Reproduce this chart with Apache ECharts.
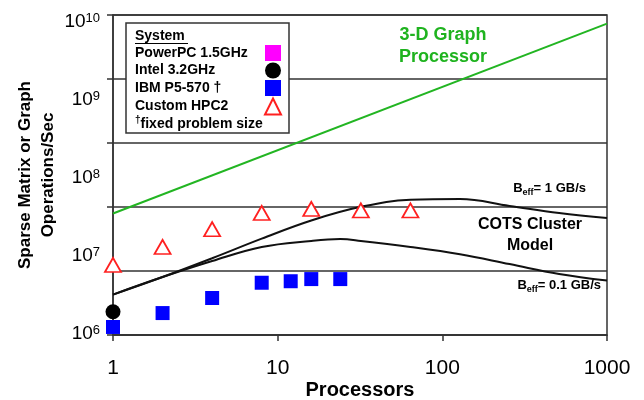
<!DOCTYPE html>
<html><head><meta charset="utf-8">
<script src="https://cdn.jsdelivr.net/npm/echarts@6/dist/echarts.min.js"></script>
<style>html,body{margin:0;padding:0;background:#fff}#c{width:644px;height:400px}</style>
</head><body><div id="c"></div>
<script>
// ---- data ----
const xTicks = [1, 10, 100, 1000];
const yTickExps = [6, 7, 8, 9, 10];
const graphProcX = [1, 1000];
const graphProcY = [3.3e7, 7.8e9];
const hpc2X = [1, 2, 4, 8, 16, 32, 64];
const hpc2Y = [7.5e6, 1.26e7, 2.1e7, 3.35e7, 3.76e7, 3.6e7, 3.6e7];
const ibmX = [1, 2, 4, 8, 12, 16, 24];
const ibmY = [1.26e6, 1.88e6, 2.9e6, 4.5e6, 4.7e6, 5.0e6, 5.0e6];
const intelX = [1];
const intelY = [1.95e6];
const powerpcX = [];
const powerpcY = [];
const cots1X = [1, 2, 4, 8, 16, 32, 64, 128, 256, 512, 1000];
const cots1Y = [3.2e6, 5.3e6, 9.1e6, 1.6e7, 2.7e7, 4.0e7, 4.9e7, 5.0e7, 4.1e7, 3.35e7, 2.9e7];
const cots01X = [1, 2, 4, 8, 16, 24, 32, 64, 128, 256, 512, 1000];
const cots01Y = [3.2e6, 5.3e6, 8.4e6, 1.26e7, 1.5e7, 1.58e7, 1.5e7, 1.26e7, 1.02e7, 7.7e6, 5.8e6, 4.8e6];
const legendNames = ['PowerPC 1.5GHz', 'Intel 3.2GHz', 'IBM P5-570 \u2020', 'Custom HPC2'];

const zip = (xs, ys) => xs.map((x, i) => [x, ys[i]]);
const FF = '"Liberation Sans", Arial, sans-serif';

// per-label vertical nudge of y tick labels (px, + = down)
const yLabelNudge = { 6: 0, 7: 1, 8: 2, 9: 3, 10: 4 };
const yRich = {};
Object.keys(yLabelNudge).forEach(e => {
  const d = yLabelNudge[e];
  const pad = d >= 0 ? [2 * d, 0, 0, 0] : [0, 0, -2 * d, 0];
  yRich['b' + e] = { fontFamily: FF, fontSize: 19, color: '#000', lineHeight: 22, verticalAlign: 'top', padding: pad };
  yRich['s' + e] = { fontFamily: FF, fontSize: 13, color: '#000', lineHeight: 15, verticalAlign: 'top', padding: pad };
});

const chart = echarts.init(document.getElementById('c'));
chart.setOption({
  animation: false,
  backgroundColor: '#fff',
  textStyle: { fontFamily: FF },
  grid: { left: 113, right: 37, top: 15, bottom: 65, containLabel: false, outerBoundsMode: 'none',
    show: true, borderColor: '#333', borderWidth: 1.5, backgroundColor: 'transparent' },
  xAxis: {
    type: 'log', logBase: 10, min: 1, max: 1000,
    name: 'Processors', nameLocation: 'middle', nameGap: 45, nameMoveOverlap: false,
    nameTextStyle: { fontFamily: FF, fontSize: 20, fontWeight: 'bold', color: '#000' },
    axisLine: { lineStyle: { color: '#333', width: 1.5 } },
    axisTick: { show: true, length: 6, lineStyle: { color: '#333', width: 1.5 } },
    minorTick: { show: false },
    splitLine: { show: false },
    axisLabel: { fontFamily: FF, fontSize: 21, color: '#000', margin: 23,
      formatter: v => { const r = Math.round(v); return xTicks.indexOf(r) >= 0 ? String(r) : ''; } }
  },
  yAxis: [{
    type: 'log', logBase: 10, min: 1e6, max: 1e10,
    name: 'Sparse Matrix or Graph\nOperations/Sec', nameLocation: 'middle', nameGap: 53, nameRotate: 90, nameMoveOverlap: false,
    nameTextStyle: { fontFamily: FF, fontSize: 17, fontWeight: 'bold', color: '#000', lineHeight: 23 },
    axisLine: { show: true, lineStyle: { color: '#333', width: 1.5 } },
    axisTick: { show: false },
    splitLine: { show: false },
    axisLabel: {
      margin: 13,
      formatter: v => { const e = Math.round(Math.log10(v)); return yTickExps.indexOf(e) >= 0 ? '{b' + e + '|10}{s' + e + '|' + e + '}' : ''; },
      rich: yRich
    }
  }, {
    type: 'value', min: 0, max: 5, interval: 1, position: 'left',
    axisLine: { show: false },
    axisLabel: { show: false },
    axisTick: { show: true, length: 6, lineStyle: { color: '#333', width: 1.5 } },
    splitLine: { show: true, lineStyle: { color: '#333', width: 1.5 } }
  }],
  legend: {
    data: legendNames,
    orient: 'vertical', left: 135, top: 45, align: 'right',
    itemWidth: 16, itemHeight: 16, itemGap: 1.5, padding: 0,
    selectedMode: false,
    formatter: n => '{a|' + n + '}',
    textStyle: { rich: { a: { width: 125, align: 'left', fontFamily: FF, fontSize: 14, fontWeight: 'bold', color: '#000' } } }
  },
  graphic: [
    { type: 'rect', z: 3, shape: { x: 126, y: 23, width: 163, height: 110 }, style: { fill: '#fff', stroke: '#333', lineWidth: 1.5 } },
    { type: 'text', z: 5, x: 135, y: 36, style: { text: 'System', font: 'bold 14px ' + FF, fill: '#000', verticalAlign: 'middle' } },
    { type: 'line', z: 5, shape: { x1: 135, y1: 43.5, x2: 188, y2: 43.5 }, style: { stroke: '#000', lineWidth: 1 } },
    { type: 'text', z: 5, x: 135, y: 124, style: { text: '{d|\u2020}{a|fixed problem size}', verticalAlign: 'middle',
      rich: { d: { fontFamily: FF, fontSize: 10, fontWeight: 'bold', fill: '#000', lineHeight: 8, verticalAlign: 'top' },
              a: { fontFamily: FF, fontSize: 14, fontWeight: 'bold', fill: '#000', lineHeight: 18, verticalAlign: 'middle' } } } },
    { type: 'text', z: 5, x: 443, y: 46, style: { text: '3-D Graph\nProcessor', font: 'bold 18px ' + FF, fill: '#1fb31f', align: 'center', verticalAlign: 'middle', lineHeight: 22 } },
    { type: 'text', z: 5, x: 530, y: 235, style: { text: 'COTS Cluster\nModel', font: 'bold 16px ' + FF, fill: '#000', align: 'center', verticalAlign: 'middle', lineHeight: 21 } },
    { type: 'text', z: 5, x: 586, y: 188, style: { text: '{b|B}{s|eff}{b|= 1 GB/s}', align: 'right', verticalAlign: 'middle',
      rich: { b: { fontFamily: FF, fontSize: 13, fontWeight: 'bold', fill: '#000', lineHeight: 18, verticalAlign: 'middle' },
              s: { fontFamily: FF, fontSize: 9, fontWeight: 'bold', fill: '#000', lineHeight: 8, verticalAlign: 'bottom' } } } },
    { type: 'text', z: 5, x: 601, y: 285, style: { text: '{b|B}{s|eff}{b|= 0.1 GB/s}', align: 'right', verticalAlign: 'middle',
      rich: { b: { fontFamily: FF, fontSize: 13, fontWeight: 'bold', fill: '#000', lineHeight: 18, verticalAlign: 'middle' },
              s: { fontFamily: FF, fontSize: 9, fontWeight: 'bold', fill: '#000', lineHeight: 8, verticalAlign: 'bottom' } } } }
  ],
  series: [
    { name: '3-D Graph Processor', type: 'line', data: zip(graphProcX, graphProcY), showSymbol: false, silent: true,
      lineStyle: { color: '#22b522', width: 2 }, z: 2 },
    { name: 'COTS 1 GB/s', type: 'line', smooth: 0.4, data: zip(cots1X, cots1Y), showSymbol: false, silent: true,
      lineStyle: { color: '#111', width: 2 }, z: 2 },
    { name: 'COTS 0.1 GB/s', type: 'line', smooth: 0.4, data: zip(cots01X, cots01Y), showSymbol: false, silent: true,
      lineStyle: { color: '#111', width: 2 }, z: 2 },
    { name: legendNames[0], type: 'scatter', data: zip(powerpcX, powerpcY), symbol: 'rect', symbolSize: 16,
      itemStyle: { color: '#ff00ff', opacity: 1 }, z: 3 },
    { name: legendNames[1], type: 'scatter', data: zip(intelX, intelY), symbol: 'circle', symbolSize: 15,
      itemStyle: { color: '#000', opacity: 1 }, z: 4 },
    { name: legendNames[2], type: 'scatter', data: zip(ibmX, ibmY), symbol: 'rect', symbolSize: 14,
      itemStyle: { color: '#0000ff', opacity: 1 }, z: 3 },
    { name: legendNames[3], type: 'scatter', data: zip(hpc2X, hpc2Y), symbol: 'triangle', symbolSize: [16, 14],
      itemStyle: { color: '#fff', borderColor: '#ff2020', borderWidth: 1.8, opacity: 1 }, z: 3 }
  ]
});
</script></body></html>
